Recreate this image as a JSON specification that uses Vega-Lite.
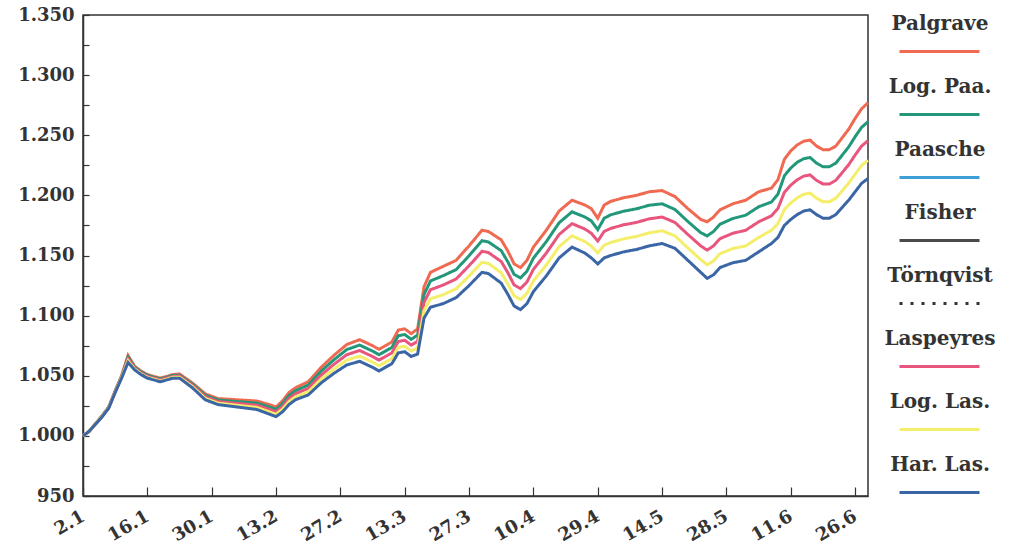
{
  "$schema": "https://vega.github.io/schema/vega-lite/v6.json",
  "width": 785,
  "height": 481,
  "autosize": {"type": "none"},
  "padding": {"left": 83, "top": 15, "right": 141, "bottom": 59},
  "background": "white",
  "config": {
    "view": {"stroke": "#333", "strokeWidth": 1.5},
    "axis": {"labelFont": "DejaVu Serif", "labelFontWeight": "bold", "labelFontSize": 18, "labelColor": "#333", "domainColor": "#333", "domainWidth": 1.5, "tickColor": "#333", "tickWidth": 1.2, "grid": false, "title": null, "labelOverlap": false, "labelBound": false, "labelFlush": false},
    "legend": {
      "orient": "none", "legendX": 815, "legendY": -5,
      "title": null,
      "symbolType": "stroke", "symbolSize": 6400, "symbolStrokeWidth": 3,
      "labelFont": "DejaVu Serif", "labelFontWeight": "bold", "labelFontSize": 20, "labelColor": "#333",
      "labelAlign": "center", "labelOffset": -41, "rowPadding": 15,
      "labelLimit": 200
    }
  },
  "data": {"values": [
    {"d":0,"hla":1000,"lla":1000,"las":1000,"lpa":1000,"pal":1000},
    {"d":1,"hla":1004,"lla":1004,"las":1004,"lpa":1004,"pal":1004},
    {"d":2,"hla":1010,"lla":1010.1,"las":1010.3,"lpa":1010.4,"pal":1010.5},
    {"d":3,"hla":1016,"lla":1016.2,"las":1016.5,"lpa":1016.8,"pal":1017},
    {"d":4,"hla":1023,"lla":1023.2,"las":1023.5,"lpa":1023.8,"pal":1024},
    {"d":5,"hla":1036,"lla":1036.4,"las":1036.8,"lpa":1037.1,"pal":1037.5},
    {"d":6,"hla":1048,"lla":1048.5,"las":1049,"lpa":1049.5,"pal":1050},
    {"d":7,"hla":1061,"lla":1062.4,"las":1064,"lpa":1065.5,"pal":1067},
    {"d":8,"hla":1055,"lla":1055.7,"las":1056.5,"lpa":1057.3,"pal":1058},
    {"d":9,"hla":1051,"lla":1051.7,"las":1052.5,"lpa":1053.3,"pal":1054},
    {"d":10,"hla":1048,"lla":1048.7,"las":1049.5,"lpa":1050.3,"pal":1051},
    {"d":12,"hla":1045,"lla":1045.7,"las":1046.5,"lpa":1047.3,"pal":1048},
    {"d":14,"hla":1048,"lla":1048.7,"las":1049.5,"lpa":1050.3,"pal":1051},
    {"d":15,"hla":1048,"lla":1048.8,"las":1049.8,"lpa":1050.6,"pal":1051.5},
    {"d":17,"hla":1040,"lla":1041,"las":1042,"lpa":1043,"pal":1044},
    {"d":19,"hla":1030,"lla":1031.2,"las":1032.5,"lpa":1033.8,"pal":1035},
    {"d":21,"hla":1026,"lla":1027.2,"las":1028.5,"lpa":1029.8,"pal":1031},
    {"d":24,"hla":1024,"lla":1025.4,"las":1027,"lpa":1028.5,"pal":1030},
    {"d":27,"hla":1022,"lla":1023.7,"las":1025.5,"lpa":1027.3,"pal":1029},
    {"d":29,"hla":1018,"lla":1019.9,"las":1022,"lpa":1024,"pal":1026},
    {"d":30,"hla":1016,"lla":1017.9,"las":1020,"lpa":1022,"pal":1024},
    {"d":31,"hla":1020,"lla":1022.2,"las":1024.5,"lpa":1026.8,"pal":1029},
    {"d":32,"hla":1026,"lla":1028.4,"las":1031,"lpa":1033.5,"pal":1036},
    {"d":33,"hla":1030,"lla":1032.4,"las":1035,"lpa":1037.5,"pal":1040},
    {"d":35,"hla":1034,"lla":1036.6,"las":1039.5,"lpa":1042.3,"pal":1045},
    {"d":37,"hla":1044,"lla":1047.1,"las":1050.5,"lpa":1053.8,"pal":1057},
    {"d":39,"hla":1052,"lla":1055.6,"las":1059.5,"lpa":1063.3,"pal":1067},
    {"d":41,"hla":1059,"lla":1063.1,"las":1067.5,"lpa":1071.8,"pal":1076},
    {"d":43,"hla":1062,"lla":1066.3,"las":1071,"lpa":1075.5,"pal":1080},
    {"d":45,"hla":1057,"lla":1061.3,"las":1066,"lpa":1070.5,"pal":1075},
    {"d":46,"hla":1054,"lla":1058.3,"las":1063,"lpa":1067.5,"pal":1072},
    {"d":48,"hla":1060,"lla":1064.3,"las":1069,"lpa":1073.5,"pal":1078},
    {"d":49,"hla":1069,"lla":1073.6,"las":1078.5,"lpa":1083.3,"pal":1088},
    {"d":50,"hla":1070,"lla":1074.6,"las":1079.5,"lpa":1084.3,"pal":1089},
    {"d":51,"hla":1066,"lla":1070.6,"las":1075.5,"lpa":1080.3,"pal":1085},
    {"d":52,"hla":1068,"lla":1073,"las":1078.5,"lpa":1083.8,"pal":1089},
    {"d":53,"hla":1098,"lla":1104.2,"las":1111,"lpa":1117.5,"pal":1124},
    {"d":54,"hla":1107,"lla":1114,"las":1121.5,"lpa":1128.8,"pal":1136},
    {"d":56,"hla":1110,"lla":1117.4,"las":1125.5,"lpa":1133.3,"pal":1141},
    {"d":58,"hla":1115,"lla":1122.4,"las":1130.5,"lpa":1138.3,"pal":1146},
    {"d":60,"hla":1125,"lla":1132.9,"las":1141.5,"lpa":1149.8,"pal":1158},
    {"d":62,"hla":1136,"lla":1144.4,"las":1153.5,"lpa":1162.3,"pal":1171},
    {"d":63,"hla":1135,"lla":1143.4,"las":1152.5,"lpa":1161.3,"pal":1170},
    {"d":65,"hla":1127,"lla":1135.6,"las":1145,"lpa":1154,"pal":1163},
    {"d":66,"hla":1118,"lla":1126.6,"las":1136,"lpa":1145,"pal":1154},
    {"d":67,"hla":1108,"lla":1116.4,"las":1125.5,"lpa":1134.3,"pal":1143},
    {"d":68,"hla":1105,"lla":1113.4,"las":1122.5,"lpa":1131.3,"pal":1140},
    {"d":69,"hla":1110,"lla":1118.6,"las":1128,"lpa":1137,"pal":1146},
    {"d":70,"hla":1120,"lla":1128.9,"las":1138.5,"lpa":1147.8,"pal":1157},
    {"d":72,"hla":1133,"lla":1142.1,"las":1152,"lpa":1161.5,"pal":1171},
    {"d":74,"hla":1148,"lla":1157.4,"las":1167.5,"lpa":1177.3,"pal":1187},
    {"d":76,"hla":1157,"lla":1166.4,"las":1176.5,"lpa":1186.3,"pal":1196},
    {"d":78,"hla":1152,"lla":1161.6,"las":1172,"lpa":1182,"pal":1192},
    {"d":79,"hla":1148,"lla":1157.8,"las":1168.5,"lpa":1178.8,"pal":1189},
    {"d":80,"hla":1143,"lla":1152.1,"las":1162,"lpa":1171.5,"pal":1181},
    {"d":81,"hla":1148,"lla":1158.6,"las":1170,"lpa":1181,"pal":1192},
    {"d":82,"hla":1150,"lla":1160.8,"las":1172.5,"lpa":1183.8,"pal":1195},
    {"d":84,"hla":1153,"lla":1163.8,"las":1175.5,"lpa":1186.8,"pal":1198},
    {"d":86,"hla":1155,"lla":1165.8,"las":1177.5,"lpa":1188.8,"pal":1200},
    {"d":88,"hla":1158,"lla":1168.8,"las":1180.5,"lpa":1191.8,"pal":1203},
    {"d":90,"hla":1160,"lla":1170.6,"las":1182,"lpa":1193,"pal":1204},
    {"d":92,"hla":1156,"lla":1166.3,"las":1177.5,"lpa":1188.3,"pal":1199},
    {"d":94,"hla":1146,"lla":1156.3,"las":1167.5,"lpa":1178.3,"pal":1189},
    {"d":96,"hla":1136,"lla":1146.6,"las":1158,"lpa":1169,"pal":1180},
    {"d":97,"hla":1131,"lla":1142.3,"las":1154.5,"lpa":1166.3,"pal":1178},
    {"d":98,"hla":1134,"lla":1145.5,"las":1158,"lpa":1170,"pal":1182},
    {"d":99,"hla":1140,"lla":1151.5,"las":1164,"lpa":1176,"pal":1188},
    {"d":101,"hla":1144,"lla":1155.8,"las":1168.5,"lpa":1180.8,"pal":1193},
    {"d":103,"hla":1146,"lla":1158,"las":1171,"lpa":1183.5,"pal":1196},
    {"d":105,"hla":1153,"lla":1165,"las":1178,"lpa":1190.5,"pal":1203},
    {"d":107,"hla":1160,"lla":1171,"las":1183,"lpa":1194.5,"pal":1206},
    {"d":108,"hla":1165,"lla":1176.5,"las":1189,"lpa":1201,"pal":1213},
    {"d":109,"hla":1175,"lla":1188.2,"las":1202.5,"lpa":1216.3,"pal":1230},
    {"d":110,"hla":1180,"lla":1193.7,"las":1208.5,"lpa":1222.8,"pal":1237},
    {"d":111,"hla":1184,"lla":1197.9,"las":1213,"lpa":1227.5,"pal":1242},
    {"d":112,"hla":1187,"lla":1200.9,"las":1216,"lpa":1230.5,"pal":1245},
    {"d":113,"hla":1188,"lla":1201.9,"las":1217,"lpa":1231.5,"pal":1246},
    {"d":114,"hla":1184,"lla":1197.7,"las":1212.5,"lpa":1226.8,"pal":1241},
    {"d":115,"hla":1181,"lla":1194.7,"las":1209.5,"lpa":1223.8,"pal":1238},
    {"d":116,"hla":1181,"lla":1194.7,"las":1209.5,"lpa":1223.8,"pal":1238},
    {"d":117,"hla":1184,"lla":1197.7,"las":1212.5,"lpa":1226.8,"pal":1241},
    {"d":118,"hla":1190,"lla":1203.9,"las":1219,"lpa":1233.5,"pal":1248},
    {"d":119,"hla":1196,"lla":1210.2,"las":1225.5,"lpa":1240.3,"pal":1255},
    {"d":120,"hla":1203,"lla":1217.6,"las":1233.5,"lpa":1248.8,"pal":1264},
    {"d":121,"hla":1210,"lla":1224.9,"las":1241,"lpa":1256.5,"pal":1272},
    {"d":122,"hla":1214,"lla":1229.1,"las":1245.5,"lpa":1261.3,"pal":1277}
  ]},
  "transform": [
    {"fold": ["pal", "lpa", "paa", "fis", "tor", "las", "lla", "hla"], "as": ["series", "value"]},
    {"filter": "isValid(datum.value)"}
  ],
  "encoding": {
    "x": {"field": "d", "type": "quantitative",
      "scale": {"domain": [0, 122], "nice": false, "zero": false},
      "axis": {"values": [0,10,20,30,40,50,60,70,80,90,100,110,120],
        "labelExpr": "['2.1','16.1','30.1','13.2','27.2','13.3','27.3','10.4','29.4','14.5','28.5','11.6','26.6'][round(datum.value/10)]",
        "labelAngle": -30, "labelAlign": "right", "labelBaseline": "middle", "labelPadding": 28, "tickSize": -9}},
    "y": {"field": "value", "type": "quantitative",
      "scale": {"domain": [950, 1350], "nice": false, "zero": false},
      "axis": {"values": [950,975,1000,1025,1050,1075,1100,1125,1150,1175,1200,1225,1250,1275,1300,1325,1350],
        "labelExpr": "datum.value % 50 != 0 ? '' : (datum.value >= 1000 ? '1.' + format(datum.value - 1000, '03d') : format(datum.value, 'd'))",
        "tickSize": -6, "labelPadding": 15}},
    "color": {"field": "series", "type": "nominal",
      "scale": {"domain": ["pal", "lpa", "paa", "fis", "tor", "las", "lla", "hla"],
        "range": ["#f06a52", "#23977a", "#3c9fd6", "#4a4a4a", "#333333", "#e8557d", "#f4ee6a", "#3b66a6"]},
      "legend": {"labelExpr": "['Palgrave','Log. Paa.','Paasche','Fisher','Törnqvist','Laspeyres','Log. Las.','Har. Las.'][indexof(['pal','lpa','paa','fis','tor','las','lla','hla'], datum.value)]",
        "encode": {"labels": {"update": {"dy": {"value": -28}}}}}},
    "strokeDash": {"field": "series", "type": "nominal",
      "scale": {"domain": ["pal", "lpa", "paa", "fis", "tor", "las", "lla", "hla"],
        "range": [[1,0],[1,0],[1,0],[1,0],[3,8],[1,0],[1,0],[1,0]]},
      "legend": {"labelExpr": "['Palgrave','Log. Paa.','Paasche','Fisher','Törnqvist','Laspeyres','Log. Las.','Har. Las.'][indexof(['pal','lpa','paa','fis','tor','las','lla','hla'], datum.value)]",
        "encode": {"labels": {"update": {"dy": {"value": -28}}}}}}
  },
  "layer": [
    {"transform": [{"filter": "indexof(['paa','fis','tor'], datum.series) >= 0"}],
     "mark": {"type": "line", "strokeWidth": 3}},
    {"transform": [{"filter": "indexof(['paa','fis','tor'], datum.series) < 0"}],
     "mark": {"type": "line", "strokeWidth": 3}}
  ]
}
